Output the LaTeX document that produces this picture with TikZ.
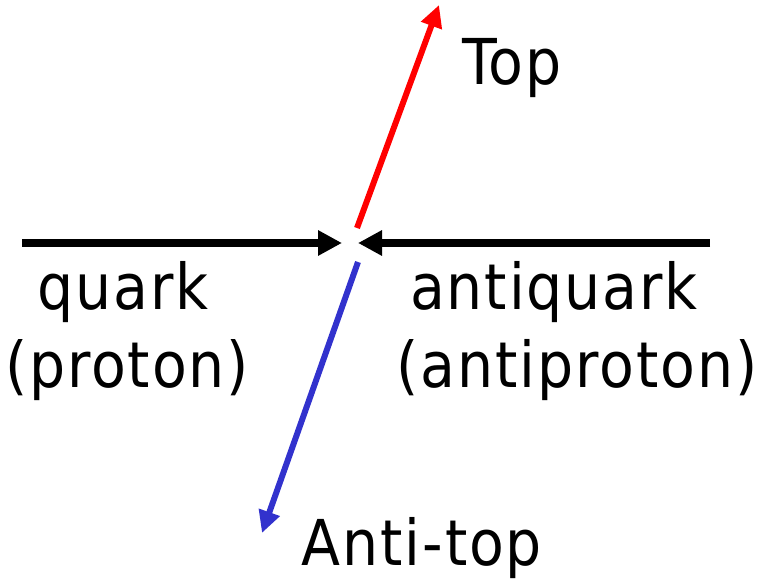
\documentclass[tikz,border=0pt]{standalone}
\usepackage{fontspec}
\setmainfont[LetterSpace=3]{DejaVu Sans Condensed}
\usepackage{tikz}
\usetikzlibrary{arrows.meta, positioning, calc}
\definecolor{topred}{RGB}{255,0,0}
\definecolor{antiblue}{RGB}{50,50,205}

\begin{document}
\begin{tikzpicture}[
    beam/.style={line width=4pt, -{Triangle[length=0.48cm,width=0.48cm]}},
    jet/.style={line width=3.4pt, -{Triangle[length=0.44cm,width=0.42cm]}},
    lbl/.style={anchor=base, font=\fontsize{36}{42}\selectfont, inner sep=0pt}]
    \useasboundingbox (0,0) rectangle (15.18,11.6);
    % incoming beams
    \coordinate (qstart) at (0.44,6.74);
    \coordinate (qtip) at (6.84,6.74);
    \coordinate (aqstart) at (14.2,6.74);
    \coordinate (aqtip) at (7.16,6.74);
    \draw[beam] (qstart) -- (qtip);
    \draw[beam] (aqstart) -- (aqtip);
    % outgoing top pair
    \coordinate (tstart) at (7.14,7.04);
    \coordinate (ttip) at (8.78,11.5);
    \coordinate (atstart) at (7.16,6.36);
    \coordinate (attip) at (5.24,0.94);
    \draw[jet, topred] (tstart) -- (ttip);
    \draw[jet, antiblue] (atstart) -- (attip);
    % labels
    \node[lbl] (top) at (10.24,9.9) {Top};
    \node[lbl] (antitop) at (8.44,0.3) {Anti-top};
    \node[lbl] (quark) at (2.46,5.4) {quark};
    \node[lbl] (proton) at (2.54,3.84) {(proton)};
    \node[lbl] (antiquark) at (11.08,5.4) {antiquark};
    \node[lbl] (antiproton) at (11.54,3.84) {(antiproton)};
\end{tikzpicture}
\end{document}
